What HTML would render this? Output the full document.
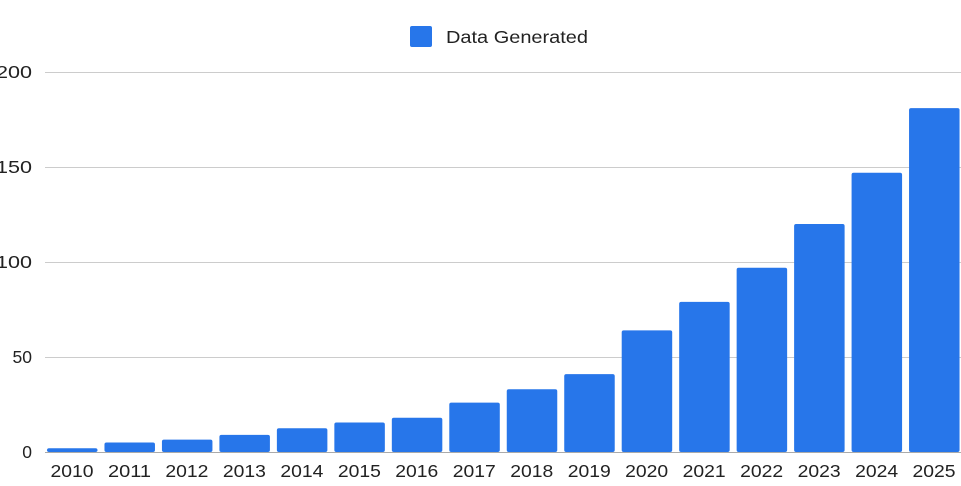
<!DOCTYPE html>
<html><head><meta charset="utf-8"><style>body{margin:0;background:#fff}</style></head><body>
<svg width="961" height="481" xmlns="http://www.w3.org/2000/svg" font-family="Liberation Sans, sans-serif" font-size="17.5" fill="#222">
<rect x="410" y="26" width="22" height="21" rx="2" fill="#2776ea"/>
<text x="446" y="43" textLength="142" lengthAdjust="spacingAndGlyphs">Data Generated</text>
<g stroke="#cccccc" stroke-width="1">
<line x1="45" x2="961" y1="72.5" y2="72.5"/>
<line x1="45" x2="961" y1="167.5" y2="167.5"/>
<line x1="45" x2="961" y1="262.5" y2="262.5"/>
<line x1="45" x2="961" y1="357.5" y2="357.5"/>
</g>
<g text-anchor="end">
<text x="32" y="78" textLength="36" lengthAdjust="spacingAndGlyphs">200</text><text x="32" y="173" textLength="36" lengthAdjust="spacingAndGlyphs">150</text><text x="32" y="268" textLength="36" lengthAdjust="spacingAndGlyphs">100</text><text x="32" y="363">50</text><text x="32" y="458">0</text>
</g>
<line x1="45" x2="961" y1="452.5" y2="452.5" stroke="#aaa" stroke-width="1"/>
<g fill="#2776ea" id="bars"></g>
<g text-anchor="middle" id="xl"></g>
</svg>
<script>
var v=[2,5,6.5,9,12.5,15.5,18,26,33,41,64,79,97,120,147,181];
var b=document.getElementById('bars'),xl=document.getElementById('xl'),ns='http://www.w3.org/2000/svg';
v.forEach(function(d,i){var x=47+i*57.47,h=d*1.9,r=document.createElementNS(ns,'rect');
r.setAttribute('x',x);r.setAttribute('width',50.5);r.setAttribute('y',452-h);r.setAttribute('height',h);r.setAttribute('rx',2);b.appendChild(r);
var t=document.createElementNS(ns,'text');t.setAttribute('x',x+25);t.setAttribute('y',477);t.setAttribute('textLength',43);t.setAttribute('lengthAdjust','spacingAndGlyphs');t.textContent=2010+i;xl.appendChild(t);});
</script>
</body></html>
